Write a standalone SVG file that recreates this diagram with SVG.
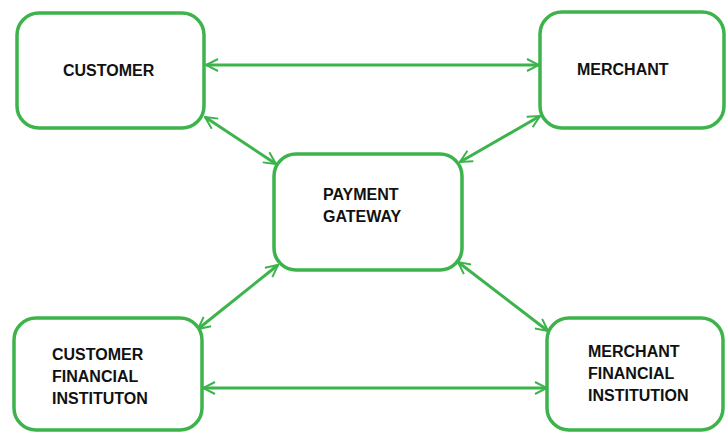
<svg xmlns="http://www.w3.org/2000/svg" width="726" height="433" viewBox="0 0 726 433">
<style>
.box{fill:#fff;stroke:#3cb44b;stroke-width:3.5}
.con{stroke:#3cb44b;stroke-width:3;fill:none}
text{font-family:"Liberation Sans",Arial,sans-serif;font-weight:bold;font-size:16px;fill:#111}
</style>
<defs>
<marker id="ah" viewBox="0 0 14 14" refX="13" refY="7" markerWidth="14" markerHeight="14" markerUnits="userSpaceOnUse" orient="auto-start-reverse">
<path d="M1,1 L13,7 L1,13" fill="none" stroke="#3cb44b" stroke-width="2"/>
</marker>
</defs>
<rect width="726" height="433" fill="#fff"/>
<g id="connectors">
<line class="con" x1="206" y1="65" x2="539" y2="65" marker-start="url(#ah)" marker-end="url(#ah)"/>
<line class="con" x1="205" y1="117" x2="276" y2="164" marker-start="url(#ah)" marker-end="url(#ah)"/>
<line class="con" x1="540" y1="116" x2="460" y2="162" marker-start="url(#ah)" marker-end="url(#ah)"/>
<line class="con" x1="278" y1="265" x2="198" y2="329" marker-start="url(#ah)" marker-end="url(#ah)"/>
<line class="con" x1="458" y1="262" x2="548" y2="331" marker-start="url(#ah)" marker-end="url(#ah)"/>
<line class="con" x1="203" y1="388" x2="547" y2="388" marker-start="url(#ah)" marker-end="url(#ah)"/>
</g>
<g id="customer">
<rect class="box" x="17" y="13" width="187" height="115" rx="22"/>
<text x="63" y="76">CUSTOMER</text>
</g>
<g id="merchant">
<rect class="box" x="540" y="12" width="184" height="116" rx="22"/>
<text x="577" y="75">MERCHANT</text>
</g>
<g id="payment-gateway">
<rect class="box" x="274" y="154" width="188" height="116" rx="22"/>
<text x="323" y="200">PAYMENT</text>
<text x="323" y="222">GATEWAY</text>
</g>
<g id="customer-fi">
<rect class="box" x="14" y="318" width="188" height="112" rx="22"/>
<text x="52" y="360">CUSTOMER</text>
<text x="52" y="382">FINANCIAL</text>
<text x="52" y="404">INSTITUTON</text>
</g>
<g id="merchant-fi">
<rect class="box" x="547" y="318" width="176" height="112" rx="22"/>
<text x="588" y="357">MERCHANT</text>
<text x="588" y="379">FINANCIAL</text>
<text x="588" y="401">INSTITUTION</text>
</g>
</svg>
